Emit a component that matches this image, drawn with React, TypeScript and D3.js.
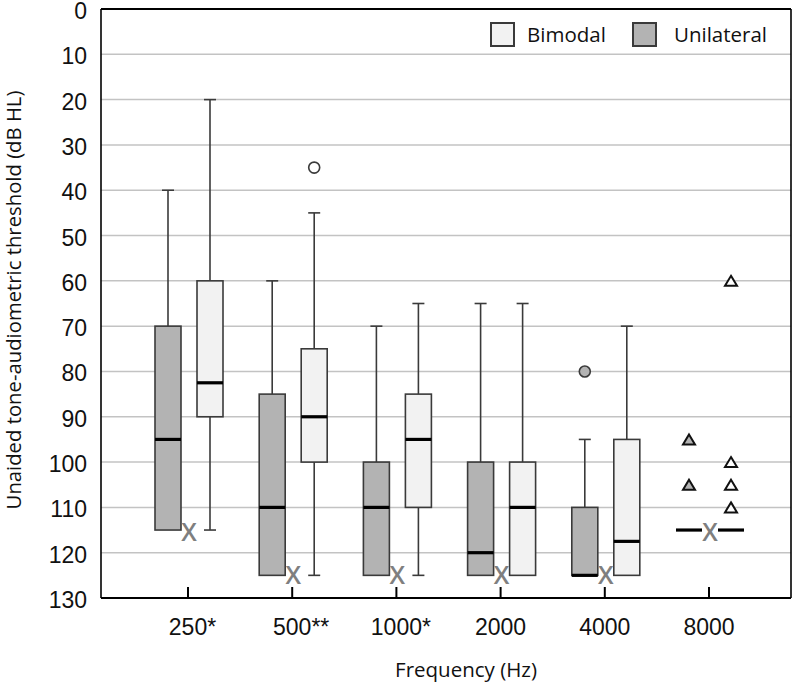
import React from "react";
import * as d3 from "d3";

const categories = ["250", "500", "1000", "2000", "4000", "8000"];
const significance = ["*", "**", "*", "", "", ""];
const yTickValues = [0, 10, 20, 30, 40, 50, 60, 70, 80, 90, 100, 110, 120, 130];
const seriesNames = ["Unilateral", "Bimodal"];

// Unilateral (grey)
const uniWhiskerTop = [40, 60, 70, 65, 95, 115];
const uniBoxTop = [70, 85, 100, 100, 110, 115];
const uniMedian = [95, 110, 110, 120, 125, 115];
const uniBoxBottom = [115, 125, 125, 125, 125, 115];
const uniWhiskerBottom = [115, 125, 125, 125, 125, 115];
const uniOutliers = [[], [], [], [], [80], []];
const uniPoints = [[], [], [], [], [], [95, 105]];

// Bimodal (white)
const biWhiskerTop = [20, 45, 65, 65, 70, 115];
const biBoxTop = [60, 75, 85, 100, 95, 115];
const biMedian = [82.5, 90, 95, 110, 117.5, 115];
const biBoxBottom = [90, 100, 110, 125, 125, 115];
const biWhiskerBottom = [115, 125, 125, 125, 125, 115];
const biOutliers = [[], [35], [], [], [], []];
const biPoints = [[], [], [], [], [], [60, 100, 105, 110]];

// X markers
const xMarkers = [115.5, 125, 125, 125, 125, 115.5];

const W = 800;
const H = 684;
const plotLeft = 101;
const plotRight = 791;
const plotTop = 9;
const plotBottom = 598;

const UNI_FILL = "#b3b3b3";
const BI_FILL = "#f2f2f2";
const STROKE = "#3a3a3a";
const TICK_FONT = "'Liberation Sans', Arial, sans-serif";
const TEXT_FONT = "'Open Sans', 'Noto Sans', sans-serif";

export default function App() {
  const y = d3.scaleLinear().domain([0, 130]).range([plotTop, plotBottom]);
  const x = d3.scalePoint<string>().domain(categories).range([plotLeft + 87, plotRight - 82]);
  const x1 = d3.scaleBand<string>().domain(seriesNames).range([-33, 35]).paddingInner(0.381);
  const bw = x1.bandwidth();

  const series = [
    { name: "Unilateral", fill: UNI_FILL, wt: uniWhiskerTop, bt: uniBoxTop, md: uniMedian, bb: uniBoxBottom, wb: uniWhiskerBottom, out: uniOutliers, pts: uniPoints, outFill: UNI_FILL, ptFill: UNI_FILL },
    { name: "Bimodal", fill: BI_FILL, wt: biWhiskerTop, bt: biBoxTop, md: biMedian, bb: biBoxBottom, wb: biWhiskerBottom, out: biOutliers, pts: biPoints, outFill: "#ffffff", ptFill: "#ffffff" },
  ];

  const tickFs = 23;
  const triangle = (cx: number, cy: number) => {
    const h = 10, w = 12;
    return `M${cx},${cy - h / 2} L${cx + w / 2},${cy + h / 2} L${cx - w / 2},${cy + h / 2} Z`;
  };

  return (
    <svg width={W} height={H} style={{ position: "absolute", left: 0, top: 0, background: "#fff" }}>
      <rect x={0} y={0} width={W} height={H} fill="#fff" />
      {/* gridlines */}
      {yTickValues.slice(1, -1).map((v) => (
        <line key={"g" + v} x1={plotLeft} x2={plotRight} y1={y(v)} y2={y(v)} stroke="#c3c3c3" strokeWidth={1.5} />
      ))}
      {/* y tick labels */}
      {yTickValues.map((v) => (
        <text key={"yl" + v} x={87} y={y(v) + 10} textAnchor="end" fontFamily={TICK_FONT} fontSize={tickFs} fill="#111">
          {v}
        </text>
      ))}
      {/* boxes */}
      {series.map((s) =>
        categories.map((c, i) => {
          const cx = (x(c) as number) + (x1(s.name) as number) + bw / 2;
          const left = cx - bw / 2;
          const capW = 12;
          return (
            <g key={s.name + c}>
              {s.wt[i] < s.bt[i] && (
                <g>
                  <line x1={cx} x2={cx} y1={y(s.wt[i])} y2={y(s.bt[i])} stroke={STROKE} strokeWidth={1.6} />
                  <line x1={cx - capW / 2} x2={cx + capW / 2} y1={y(s.wt[i])} y2={y(s.wt[i])} stroke={STROKE} strokeWidth={1.6} />
                </g>
              )}
              {s.wb[i] > s.bb[i] && (
                <g>
                  <line x1={cx} x2={cx} y1={y(s.bb[i])} y2={y(s.wb[i])} stroke={STROKE} strokeWidth={1.6} />
                  <line x1={cx - capW / 2} x2={cx + capW / 2} y1={y(s.wb[i])} y2={y(s.wb[i])} stroke={STROKE} strokeWidth={1.6} />
                </g>
              )}
              {s.bb[i] > s.bt[i] && (
                <rect x={left} y={y(s.bt[i])} width={bw} height={y(s.bb[i]) - y(s.bt[i])} fill={s.fill} stroke={STROKE} strokeWidth={1.6} />
              )}
              <line x1={left} x2={left + bw} y1={y(s.md[i])} y2={y(s.md[i])} stroke="#000" strokeWidth={3.2} />
              {s.out[i].map((v, k) => (
                <circle key={"o" + k} cx={cx} cy={y(v)} r={5.5} fill={s.outFill} stroke={STROKE} strokeWidth={1.6} />
              ))}
              {s.pts[i].map((v, k) => (
                <path key={"p" + k} d={triangle(cx, y(v))} fill={s.ptFill} stroke="#111" strokeWidth={2} strokeLinejoin="miter" />
              ))}
            </g>
          );
        })
      )}
      {/* X markers */}
      {categories.map((c, i) => (
        <text key={"x" + c} x={(x(c) as number) + 1} y={y(xMarkers[i])} dy="0.36em" textAnchor="middle" fontFamily={TEXT_FONT} fontWeight={600} fontSize={25} fill="#7f7f7f">
          X
        </text>
      ))}
      {/* frame */}
      <line x1={plotLeft} x2={plotRight} y1={plotTop} y2={plotTop} stroke="#000" strokeWidth={2.2} />
      <line x1={plotLeft} x2={plotLeft} y1={plotTop} y2={plotBottom} stroke="#000" strokeWidth={1.6} />
      <line x1={plotRight} x2={plotRight} y1={plotTop} y2={plotBottom} stroke="#000" strokeWidth={1.6} />
      <line x1={plotLeft} x2={plotRight} y1={plotBottom} y2={plotBottom} stroke="#000" strokeWidth={2} />
      {/* x ticks */}
      {categories.map((c) => (
        <line key={"t" + c} x1={x(c) as number} x2={x(c) as number} y1={plotBottom} y2={plotBottom - 11} stroke="#000" strokeWidth={2} />
      ))}
      {/* x labels */}
      {categories.map((c, i) => {
        const px = x(c) as number;
        const numW = c.length * 0.556 * tickFs;
        return (
          <g key={"xl" + c}>
            <text x={px} y={635} textAnchor="middle" fontFamily={TICK_FONT} fontSize={tickFs} fill="#111">
              {c}
            </text>
            {significance[i] && (
              <text x={px + numW / 2} y={635} textAnchor="start" fontFamily={TICK_FONT} fontSize={tickFs} fill="#111">
                {significance[i]}
              </text>
            )}
          </g>
        );
      })}
      {/* axis titles */}
      <text x={466} y={677} textAnchor="middle" fontFamily={TEXT_FONT} fontSize={20.5} fill="#111">
        Frequency (Hz)
      </text>
      <text transform={`translate(21,300) rotate(-90)`} textAnchor="middle" fontFamily={TEXT_FONT} fontSize={20.3} fill="#111">
        Unaided tone-audiometric threshold (dB HL)
      </text>
      {/* legend */}
      <rect x={491} y={23} width={23} height={23} fill={BI_FILL} stroke={STROKE} strokeWidth={2} />
      <text x={527} y={42} fontFamily={TEXT_FONT} fontSize={20.5} fill="#111">Bimodal</text>
      <rect x={633} y={23} width={23} height={23} fill={UNI_FILL} stroke={STROKE} strokeWidth={2} />
      <text x={674} y={42} fontFamily={TEXT_FONT} fontSize={20.5} fill="#111">Unilateral</text>
    </svg>
  );
}
